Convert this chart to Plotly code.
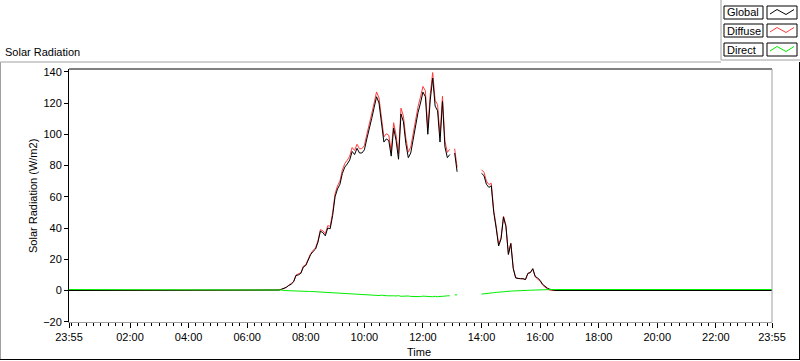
import plotly.graph_objects as go
import pandas as pd

# ---------------- data ----------------
day_start = "2024-01-02 07:00"
day_end = "2024-01-02 16:30"
axis_start = "2024-01-01 23:55"
axis_end = "2024-01-02 23:55"

# 5-minute readings from 07:00 to 16:30 (None = missing)
global_day = [
    0.0, 0.3, 0.8, 1.2, 2.0, 3.2, 4.0, 5.5, 9.6, 10.0, 11.0, 15.0,            # 07
    16.0, 19.5, 23.0, 25.0, 26.5, 31.0, 38.0, 37.0, 35.0, 40.0, 39.5, 48.0,   # 08
    60.0, 65.0, 68.0, 75.0, 79.0, 81.0, 83.5, 89.0, 87.0, 91.0, 88.0, 88.0,   # 09
    90.0, 97.0, 103.0, 110.0, 117.0, 124.0, 120.0, 109.0, 95.0, 97.0, 96.0, 86.0,   # 10
    104.0, 96.0, 84.0, 113.0, 108.0, 94.0, 85.0, 88.0, 97.0, 106.0, 114.0, 120.0,   # 11
    127.0, 124.0, 100.0, 122.0, 136.0, 118.0, 115.0, 95.0, 121.0, 92.0, 85.0, 87.0, # 12
    None, 88.0, 76.0, None, None, None, None, None, None, None, None, None,          # 13
    75.0, 73.5, 68.0, 66.0, 67.0, 50.0, 40.0, 28.5, 33.0, 47.0, 41.0, 23.0,   # 14
    30.0, 14.0, 8.0, 7.5, 7.5, 7.5, 7.0, 11.0, 11.5, 14.0, 9.0, 8.0,          # 15
    6.5, 4.0, 2.5, 1.5, 0.8, 0.3, 0.0,                                        # 16
]
diffuse_day = [
    0.0, 0.3, 0.8, 1.2, 2.1, 3.3, 4.2, 5.7, 9.9, 10.4, 11.4, 15.5,
    16.5, 20.1, 23.6, 25.7, 27.3, 31.9, 39.0, 38.2, 36.3, 41.5, 41.1, 49.8,
    61.9, 67.0, 70.1, 77.2, 81.3, 83.4, 86.0, 91.5, 89.6, 93.6, 90.7, 90.8,
    92.8, 99.9, 105.9, 113.0, 120.0, 127.1, 123.2, 112.0, 98.3, 100.3, 99.4, 89.2,
    107.4, 99.5, 87.3, 116.7, 111.6, 97.5, 88.5, 91.8, 100.9, 109.6, 117.7, 123.9,
    130.6, 127.8, 103.9, 125.8, 139.5, 121.7, 119.0, 98.8, 124.5, 95.6, 88.4, 90.4,
    None, 90.8, 78.8, None, None, None, None, None, None, None, None, None,
    77.3, 75.7, 70.0, 67.8, 68.6, 51.4, 41.2, 29.5, 33.8, 47.6, 41.6, 23.5,
    30.4, 14.3, 8.3, 7.7, 7.7, 7.6, 7.0, 10.9, 11.3, 13.7, 8.7, 7.6,
    6.0, 3.5, 1.9, 0.9, 0.2, 0.0, 0.0,
]
direct_day = [
    0.64, 0.64, 0.3, 0.0, -0.1, -0.1, -0.2, -0.2, -0.3, -0.4, -0.4, -0.5,
    -0.5, -0.6, -0.6, -0.7, -0.8, -0.9, -1.0, -1.2, -1.3, -1.5, -1.6, -1.8,
    -1.9, -2.0, -2.1, -2.2, -2.3, -2.4, -2.5, -2.5, -2.6, -2.6, -2.7, -2.8,
    -2.8, -2.9, -2.9, -3.0, -3.0, -3.1, -3.2, -3.0, -3.3, -3.3, -3.4, -3.2,
    -3.4, -3.5, -3.3, -3.7, -3.6, -3.5, -3.5, -3.8, -3.9, -3.6, -3.7, -3.9,
    -3.6, -3.8, -3.9, -3.8, -4.0, -3.7, -4.0, -3.8, -3.5, -3.6, -3.4, -3.4,
    None, -2.8, -2.8, None, None, None, None, None, None, None, None, None,
    -2.3, -2.2, -2.0, -1.8, -1.6, -1.4, -1.2, -1.0, -0.8, -0.6, -0.6, -0.5,
    -0.4, -0.3, -0.3, -0.2, -0.2, -0.1, 0.0, 0.1, 0.2, 0.3, 0.3, 0.4,
    0.5, 0.5, 0.6, 0.64, 0.64, 0.64, 0.64,
]
night_global = 0.0
night_diffuse = 0.0
night_direct = 0.64

tick_times = ["2024-01-01 23:55", "2024-01-02 02:00", "2024-01-02 04:00", "2024-01-02 06:00",
              "2024-01-02 08:00", "2024-01-02 10:00", "2024-01-02 12:00", "2024-01-02 14:00",
              "2024-01-02 16:00", "2024-01-02 18:00", "2024-01-02 20:00", "2024-01-02 22:00",
              "2024-01-02 23:55"]
tick_labels = ["23:55", "02:00", "04:00", "06:00", "08:00", "10:00", "12:00", "14:00",
               "16:00", "18:00", "20:00", "22:00", "23:55"]
y_ticks = [-20, 0, 20, 40, 60, 80, 100, 120, 140]
series_names = ["Global", "Diffuse", "Direct"]
series_colors = {"Global": "#000000", "Diffuse": "#ff3c3c", "Direct": "#00ee00"}

# ---------------- build ----------------
day_times = list(pd.date_range(day_start, day_end, freq="5min"))
times = [pd.Timestamp(axis_start)] + day_times + [pd.Timestamp(axis_end)]
g = [night_global] + global_day + [night_global]
d = [night_diffuse] + diffuse_day + [night_diffuse]
r = [night_direct] + direct_day + [night_direct]

W, H = 800, 361
L, R, T, B = 69, 772, 69, 322  # plot area in pixels


def fx(px):
    return (px - L) / (R - L)


def fy(py):
    return (B - py) / (B - T)


FONT = "Liberation Sans, Arial, sans-serif"

fig = go.Figure()
for name, vals in [("Diffuse", d), ("Global", g), ("Direct", r)]:
    fig.add_trace(go.Scatter(x=times, y=vals, mode="lines", name=name,
                             line=dict(color=series_colors[name], width=1),
                             connectgaps=False, showlegend=False))

shapes = []


def line(x0, y0, x1, y1, color, w=1):
    shapes.append(dict(type="line", xref="paper", yref="paper",
                       x0=fx(x0), y0=fy(y0), x1=fx(x1), y1=fy(y1),
                       line=dict(color=color, width=w)))


def rect(x0, y0, x1, y1, color):
    shapes.append(dict(type="rect", xref="paper", yref="paper",
                       x0=fx(x0), y0=fy(y0), x1=fx(x1), y1=fy(y1),
                       line=dict(color=color, width=1), fillcolor="white"))


# plot frame (top black, right gray)
line(L, T, R, T, "black")
line(R, T, R, B, "#a0a0a0")
# outer panel
line(0.5, 62, 721, 62, "#a0a0a0")
line(0.5, 62, 0.5, 360, "#a0a0a0")
line(0, 359.5, 800, 359.5, "black")
line(799.5, 62, 799.5, 360, "black")
# legend panel
line(721, 0, 721, 60, "#a0a0a0")
line(721, 60, 800, 60, "#a0a0a0")

annotations = []
rows = [(6, 19), (24, 37), (43, 56)]
for name, (y0, y1) in zip(series_names, rows):
    rect(724, y0, 763, y1, "black")
    rect(767, y0, 797, y1, "black")
    yc = (y0 + y1) / 2
    pts = [(770, yc + 1.5), (777, yc - 3), (786, yc + 2), (794, yc - 3)]
    path = "M " + " L ".join(f"{fx(a)},{fy(b)}" for a, b in pts)
    shapes.append(dict(type="path", xref="paper", yref="paper", path=path,
                       line=dict(color=series_colors[name], width=1)))
    annotations.append(dict(x=fx(725), y=fy(yc), xref="paper", yref="paper",
                            text=name, showarrow=False, xanchor="left", yanchor="middle",
                            font=dict(family=FONT, size=11, color="black")))

annotations.append(dict(x=fx(3), y=fy(52), xref="paper", yref="paper", text="Solar Radiation",
                        showarrow=False, xanchor="left", yanchor="middle",
                        font=dict(family=FONT, size=11, color="black")))
annotations.append(dict(x=fx(33), y=fy(196), xref="paper", yref="paper",
                        text="Solar Radiation (W/m2)", textangle=-90, showarrow=False,
                        xanchor="center", yanchor="middle",
                        font=dict(family=FONT, size=11, color="black")))
annotations.append(dict(x=fx(419), y=fy(352), xref="paper", yref="paper", text="Time",
                        showarrow=False, xanchor="center", yanchor="middle",
                        font=dict(family=FONT, size=11, color="black")))

fig.update_layout(
    width=W, height=H,
    margin=dict(l=L, r=W - R, t=T, b=H - B, pad=0),
    paper_bgcolor="white", plot_bgcolor="white",
    showlegend=False,
    shapes=shapes, annotations=annotations,
    xaxis=dict(type="date", range=[axis_start, axis_end],
               tickvals=tick_times, ticktext=tick_labels,
               ticks="outside", ticklen=5, tickcolor="black", tickwidth=1,
               minor=dict(dtick=15 * 60 * 1000, ticks="outside", ticklen=3,
                          tickcolor="black", tickwidth=1, showgrid=False),
               showgrid=False, zeroline=False, showline=True, linecolor="#a0a0a0",
               linewidth=1, tickfont=dict(family=FONT, size=11, color="black")),
    yaxis=dict(range=[-20.16, 141.76], tickvals=y_ticks,
               ticks="outside", ticklen=4, tickcolor="black", tickwidth=1,
               showgrid=False, zeroline=False, showline=True, linecolor="black",
               linewidth=1, tickfont=dict(family=FONT, size=11, color="black")),
)

fig.write_html("out.html", config={"displayModeBar": False},
               post_script="document.body.style.margin='0';")
